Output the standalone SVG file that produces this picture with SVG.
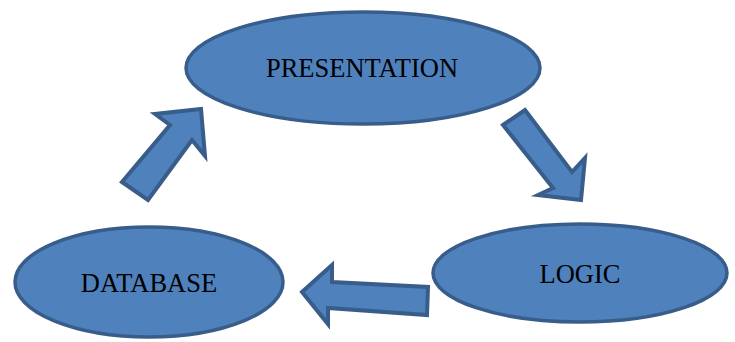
<svg xmlns="http://www.w3.org/2000/svg" width="735" height="342" viewBox="0 0 735 342">
<style>
.node{fill:#4F81BD;stroke:#385D8A;stroke-width:3.5}
.arr{fill:#4F81BD;stroke:#385D8A;stroke-width:4;stroke-linejoin:miter}
.lbl{font-family:"Liberation Serif","Times New Roman",serif;font-size:26.5px;fill:#000;text-anchor:middle}
</style>
<rect width="735" height="342" fill="#fff"/>
<g id="connectors">
<polygon class="arr" points="122,182 170,125 155,114 201,109 205,156 192,140 148,200"/>
<polygon class="arr" points="503,125 525,110 572,172 585,158 581,200 538,195 553,188"/>
<polygon class="arr" points="302,292 332,265 332,282 428,287 427,315 328,308 328,324"/>
</g>
<g id="presentation">
<ellipse class="node" cx="363" cy="68" rx="177" ry="56"/>
<text class="lbl" x="362" y="76.5">PRESENTATION</text>
</g>
<g id="logic">
<ellipse class="node" cx="580" cy="273" rx="147" ry="49"/>
<text class="lbl" x="580" y="283">LOGIC</text>
</g>
<g id="database">
<ellipse class="node" cx="149" cy="282" rx="134" ry="55"/>
<text class="lbl" x="149" y="292">DATABASE</text>
</g>
</svg>
